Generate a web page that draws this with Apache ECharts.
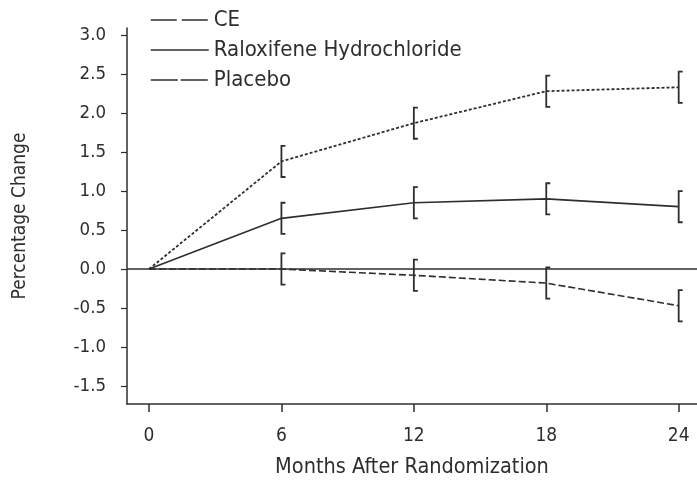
<!DOCTYPE html>
<html><head><meta charset="utf-8">
<script src="https://cdn.jsdelivr.net/npm/echarts@6/dist/echarts.min.js"></script>
<style>html,body{margin:0;padding:0;background:#fff}#c{width:697px;height:487px}</style>
</head><body><div id="c"></div>
<script>
const months = [0, 6, 12, 18, 24];
const ceValues = [0, 1.38, 1.87, 2.28, 2.33];
const raloxValues = [0, 0.65, 0.85, 0.90, 0.80];
const placeboValues = [0, 0.0, -0.08, -0.18, -0.47];
const ceErr = [null, 0.2, 0.2, 0.2, 0.2];
const raloxErr = [null, 0.2, 0.2, 0.2, 0.2];
const placeboErr = [null, 0.2, 0.2, 0.2, 0.2];
const yTicks = [-1.5, -1.0, -0.5, 0.0, 0.5, 1.0, 1.5, 2.0, 2.5, 3.0];
const xTicks = [0, 6, 12, 18, 24];

const FONT = "'DejaVu Sans Condensed','Liberation Sans',sans-serif";
const INK = '#2e2e2e';

function pts(vals){ return months.map((m,i)=>[m, vals[i]]); }
function errData(vals, errs){
  const out = [];
  months.forEach((m,i)=>{ if(errs[i]!=null) out.push([m, vals[i]-errs[i], vals[i]+errs[i]]); });
  return out;
}
function errSeries(name, vals, errs){
  return {
    type:'custom', name: name + ' err', silent:true, z:5,
    data: errData(vals, errs),
    renderItem: function(params, api){
      const lo = api.coord([api.value(0), api.value(1)]);
      const hi = api.coord([api.value(0), api.value(2)]);
      const x = lo[0];
      return {
        type:'polyline',
        shape:{points:[[x+4, hi[1]],[x, hi[1]],[x, lo[1]],[x+4, lo[1]]]},
        style:{stroke:INK, lineWidth:1.8, fill:null}
      };
    }
  };
}

const hidden = {opacity:0, borderWidth:0};
const chart = echarts.init(document.getElementById('c'), null, {renderer:'canvas'});
chart.setOption({
  animation:false,
  backgroundColor:'#fff',
  textStyle:{fontFamily:FONT},
  grid:{left:127, right:0, top:28, bottom:83},
  legend:{
    orient:'vertical', left:145, top:4, itemWidth:58, itemHeight:14, itemGap:8,
    textStyle:{fontFamily:FONT, fontSize:22, color:INK},
    data:[
      {name:'CE', itemStyle:hidden, lineStyle:{type:[26,5], width:1.5, color:INK, opacity:1}},
      {name:'Raloxifene Hydrochloride', itemStyle:hidden, lineStyle:{type:'solid', width:1.5, color:INK, opacity:1}},
      {name:'Placebo', itemStyle:hidden, lineStyle:{type:[27,3], width:1.5, color:INK, opacity:1}}
    ]
  },
  xAxis:{
    type:'value', min:-0.997, max:24.83,
    name:'Months After Randomization', nameLocation:'middle', nameGap:52,
    nameTextStyle:{fontFamily:FONT, fontSize:21.5, color:INK},
    axisLine:{show:true, onZero:false, lineStyle:{color:INK, width:1.5}},
    axisTick:{show:true, customValues:xTicks, length:8, lineStyle:{color:INK, width:1.5}},
    axisLabel:{customValues:xTicks, margin:23, fontFamily:FONT, fontSize:19, color:INK},
    splitLine:{show:false}
  },
  yAxis:{
    type:'value', min:-1.73, max:3.09,
    name:'Percentage Change', nameLocation:'middle', nameGap:97, nameRotate:90,
    nameTextStyle:{fontFamily:FONT, fontSize:19, color:INK},
    axisLine:{show:true, onZero:false, lineStyle:{color:INK, width:1.5}},
    axisTick:{show:true, customValues:yTicks, length:6, lineStyle:{color:INK, width:1.2}},
    axisLabel:{customValues:yTicks, margin:21, fontFamily:FONT, fontSize:18.5, color:INK,
      formatter:v=>v.toFixed(1)},
    splitLine:{show:false}
  },
  series:[
    {name:'CE', type:'line', data:pts(ceValues), symbol:'none', z:3,
     lineStyle:{type:[3,2], width:1.8, color:INK}, itemStyle:{color:INK}},
    {name:'Raloxifene Hydrochloride', type:'line', data:pts(raloxValues), symbol:'none', z:3,
     lineStyle:{type:'solid', width:1.6, color:INK}, itemStyle:{color:INK},
     markLine:{silent:true, symbol:'none', label:{show:false},
       lineStyle:{type:'solid', width:1.6, color:INK}, data:[{yAxis:0}]}},
    {name:'Placebo', type:'line', data:pts(placeboValues), symbol:'none', z:3,
     lineStyle:{type:[7,3], width:1.6, color:INK}, itemStyle:{color:INK}},
    errSeries('CE', ceValues, ceErr),
    errSeries('Raloxifene Hydrochloride', raloxValues, raloxErr),
    errSeries('Placebo', placeboValues, placeboErr)
  ]
});
</script></body></html>
